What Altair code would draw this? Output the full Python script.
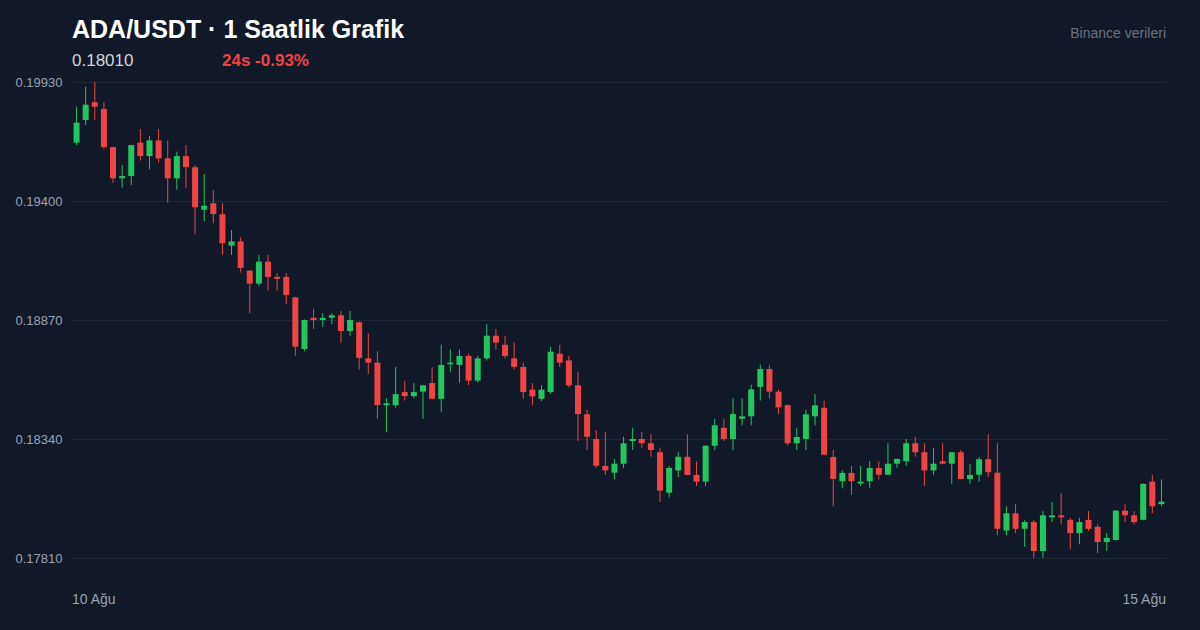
import altair as alt
import pandas as pd

# OHLC values (hourly candles, ADA/USDT)
opens = [0.19660, 0.19761, 0.19840, 0.19810, 0.19640, 0.19501, 0.19511, 0.19660, 0.19600, 0.19670,
         0.19590, 0.19501, 0.19600, 0.19550, 0.19361, 0.19390, 0.19341, 0.19201, 0.19220, 0.19090,
         0.19032, 0.19130, 0.19062, 0.19062, 0.18971, 0.18741, 0.18880, 0.18870, 0.18880, 0.18891,
         0.18821, 0.18860, 0.18699, 0.18680, 0.18490, 0.18490, 0.18549, 0.18531, 0.18551, 0.18589,
         0.18519, 0.18673, 0.18670, 0.18710, 0.18600, 0.18699, 0.18800, 0.18760, 0.18699, 0.18661,
         0.18560, 0.18519, 0.18549, 0.18720, 0.18690, 0.18579, 0.18450, 0.18340, 0.18220, 0.18190,
         0.18230, 0.18331, 0.18340, 0.18321, 0.18281, 0.18101, 0.18200, 0.18261, 0.18180, 0.18150,
         0.18310, 0.18390, 0.18340, 0.18430, 0.18441, 0.18572, 0.18652, 0.18551, 0.18491, 0.18321,
         0.18340, 0.18441, 0.18479, 0.18260, 0.18152, 0.18189, 0.18141, 0.18152, 0.18211, 0.18181,
         0.18230, 0.18241, 0.18321, 0.18281, 0.18200, 0.18241, 0.18230, 0.18281, 0.18162, 0.18181,
         0.18250, 0.18190, 0.17932, 0.18009, 0.17940, 0.17970, 0.17841, 0.17991, 0.18000, 0.17980,
         0.17921, 0.17980, 0.17949, 0.17881, 0.17890, 0.18021, 0.18000, 0.17980, 0.18150, 0.18050]
highs = [0.19820, 0.19909, 0.19931, 0.19840, 0.19642, 0.19560, 0.19651, 0.19721, 0.19690, 0.19721,
         0.19670, 0.19620, 0.19649, 0.19560, 0.19520, 0.19449, 0.19390, 0.19271, 0.19238, 0.19092,
         0.19160, 0.19160, 0.19079, 0.19079, 0.18973, 0.18872, 0.18920, 0.18900, 0.18900, 0.18910,
         0.18910, 0.18862, 0.18811, 0.18731, 0.18521, 0.18661, 0.18600, 0.18589, 0.18581, 0.18659,
         0.18760, 0.18739, 0.18739, 0.18720, 0.18710, 0.18851, 0.18830, 0.18800, 0.18771, 0.18680,
         0.18589, 0.18579, 0.18750, 0.18760, 0.18710, 0.18640, 0.18469, 0.18380, 0.18371, 0.18251,
         0.18350, 0.18390, 0.18371, 0.18361, 0.18301, 0.18220, 0.18281, 0.18361, 0.18241, 0.18312,
         0.18430, 0.18430, 0.18521, 0.18521, 0.18582, 0.18671, 0.18671, 0.18561, 0.18493, 0.18390,
         0.18470, 0.18540, 0.18511, 0.18291, 0.18200, 0.18220, 0.18220, 0.18241, 0.18241, 0.18321,
         0.18253, 0.18340, 0.18350, 0.18321, 0.18301, 0.18321, 0.18283, 0.18291, 0.18230, 0.18260,
         0.18361, 0.18321, 0.18040, 0.18050, 0.17979, 0.17979, 0.18019, 0.18059, 0.18099, 0.17989,
         0.17989, 0.18019, 0.17960, 0.17921, 0.18023, 0.18050, 0.18019, 0.18142, 0.18180, 0.18160]
lows = [0.19649, 0.19738, 0.19761, 0.19632, 0.19481, 0.19459, 0.19471, 0.19580, 0.19541, 0.19571,
        0.19392, 0.19450, 0.19459, 0.19252, 0.19311, 0.19301, 0.19160, 0.19160, 0.19081, 0.18900,
        0.19021, 0.19000, 0.19000, 0.18940, 0.18711, 0.18731, 0.18830, 0.18840, 0.18851, 0.18769,
        0.18800, 0.18650, 0.18629, 0.18430, 0.18371, 0.18479, 0.18511, 0.18521, 0.18430, 0.18517,
        0.18460, 0.18640, 0.18591, 0.18580, 0.18591, 0.18689, 0.18739, 0.18699, 0.18650, 0.18519,
        0.18490, 0.18509, 0.18540, 0.18661, 0.18570, 0.18331, 0.18291, 0.18211, 0.18180, 0.18160,
        0.18211, 0.18291, 0.18301, 0.18261, 0.18059, 0.18080, 0.18171, 0.18178, 0.18131, 0.18131,
        0.18291, 0.18331, 0.18291, 0.18401, 0.18401, 0.18511, 0.18521, 0.18451, 0.18310, 0.18291,
        0.18291, 0.18401, 0.18268, 0.18040, 0.18120, 0.18091, 0.18131, 0.18120, 0.18160, 0.18179,
        0.18211, 0.18221, 0.18261, 0.18131, 0.18181, 0.18228, 0.18141, 0.18160, 0.18141, 0.18150,
        0.18171, 0.17911, 0.17911, 0.17921, 0.17860, 0.17811, 0.17811, 0.17970, 0.17960, 0.17851,
        0.17871, 0.17930, 0.17831, 0.17841, 0.17888, 0.17970, 0.17960, 0.17978, 0.18010, 0.18040]
closes = [0.19749, 0.19829, 0.19820, 0.19640, 0.19501, 0.19511, 0.19649, 0.19600, 0.19670, 0.19590,
          0.19501, 0.19600, 0.19551, 0.19372, 0.19379, 0.19342, 0.19212, 0.19220, 0.19102, 0.19032,
          0.19130, 0.19062, 0.19053, 0.18981, 0.18751, 0.18870, 0.18870, 0.18880, 0.18891, 0.18821,
          0.18870, 0.18701, 0.18680, 0.18491, 0.18499, 0.18540, 0.18531, 0.18549, 0.18579, 0.18519,
          0.18670, 0.18680, 0.18710, 0.18600, 0.18699, 0.18800, 0.18769, 0.18710, 0.18661, 0.18549,
          0.18530, 0.18560, 0.18729, 0.18680, 0.18579, 0.18451, 0.18350, 0.18221, 0.18200, 0.18230,
          0.18321, 0.18340, 0.18321, 0.18291, 0.18110, 0.18211, 0.18261, 0.18180, 0.18150, 0.18310,
          0.18401, 0.18340, 0.18451, 0.18441, 0.18561, 0.18652, 0.18551, 0.18481, 0.18321, 0.18349,
          0.18450, 0.18490, 0.18270, 0.18162, 0.18189, 0.18152, 0.18150, 0.18211, 0.18181, 0.18230,
          0.18251, 0.18321, 0.18281, 0.18200, 0.18230, 0.18230, 0.18281, 0.18162, 0.18180, 0.18250,
          0.18192, 0.17940, 0.18009, 0.17940, 0.17970, 0.17841, 0.18000, 0.18000, 0.17991, 0.17921,
          0.17970, 0.17940, 0.17881, 0.17900, 0.18021, 0.18000, 0.17970, 0.18140, 0.18040, 0.18061]

y_ticks = [0.17810, 0.18340, 0.18870, 0.19400, 0.19930]
date_labels = ["10 Ağu", "15 Ağu"]
title_text = "ADA/USDT · 1 Saatlik Grafik"
price_text = "0.18010"
change_text = "24s -0.93%"
source_text = "Binance verileri"

BG = "#111827"
GREEN = "#22c55e"
RED = "#ef4444"
GRID = "#1f2937"
LABEL = "#9ca3af"
FONT = "Liberation Sans"

W, H = 1094, 476

n = len(opens)
df = pd.DataFrame({
    "i": list(range(n)),
    "open": opens, "high": highs, "low": lows, "close": closes,
})
df["dir"] = ["up" if c >= o else "down" for o, c in zip(opens, closes)]

xscale = alt.Scale(domain=[-0.5, n - 0.5], nice=False, zero=False, padding=0)
yscale = alt.Scale(domain=[y_ticks[0], y_ticks[-1]], nice=False, zero=False)
cscale = alt.Scale(domain=["up", "down"], range=[GREEN, RED])
yaxis = alt.Axis(values=y_ticks, format=".5f", title=None, domain=False, ticks=False,
                 grid=True, gridColor=GRID, gridWidth=1, labelColor=LABEL, labelFont=FONT,
                 labelFontSize=13, labelPadding=10)

base = alt.Chart(df).encode(
    x=alt.X("i:Q", scale=xscale, axis=None),
    color=alt.Color("dir:N", scale=cscale, legend=None),
)

wicks = base.mark_rule(strokeWidth=1, clip=False).encode(
    y=alt.Y("low:Q", scale=yscale, axis=yaxis),
    y2="high:Q",
)
bodies = base.mark_bar(size=6, clip=False).encode(
    y=alt.Y("open:Q", scale=yscale, axis=yaxis),
    y2="close:Q",
)

dates = alt.Chart(pd.DataFrame({"i": [-0.5, n - 0.5], "t": date_labels,
                                "a": ["left", "right"]}))
date_left = dates.transform_filter("datum.a == 'left'").mark_text(
    align="left", baseline="middle", font=FONT, fontSize=14, color=LABEL
).encode(x=alt.X("i:Q", scale=xscale, axis=None), y=alt.value(H + 42), text="t:N")
date_right = dates.transform_filter("datum.a == 'right'").mark_text(
    align="right", baseline="middle", font=FONT, fontSize=14, color=LABEL
).encode(x=alt.X("i:Q", scale=xscale, axis=None), y=alt.value(H + 42), text="t:N")

def label(text, x, y, size, color, weight="normal", align="left"):
    return alt.Chart(pd.DataFrame({"t": [text]})).mark_text(
        align=align, baseline="middle", font=FONT, fontSize=size, color=color, fontWeight=weight
    ).encode(x=alt.value(x), y=alt.value(y), text="t:N")

title = label(title_text, 0, -52, 25, "#ffffff", "bold")
price = label(price_text, 0, -21, 17, "#d1d5db")
change = label(change_text, 150, -21, 17, RED, "bold")
source = label(source_text, W, -48, 14, "#6b7280", align="right")

chart = alt.layer(wicks, bodies, date_left, date_right, title, price, change, source).properties(
    width=W, height=H,
    background=BG,
    padding={"left": 64, "top": 74, "right": 26, "bottom": 64},
    autosize=alt.AutoSizeParams(type="none"),
).configure_view(stroke=None).resolve_scale(y="shared")

# page template identical in structure to Altair's standard one, with the page
# background set to the chart background so the 8px body margin is not white
page_template = None
try:
    import jinja2
    page_template = jinja2.Template("""<!DOCTYPE html>
<html>
<head>
  <meta charset="utf-8">
  <style>
    body { background: """ + BG + """; }
    #{{ output_div }}.vega-embed { width: 100%; display: flex; }
  </style>
  <script type="text/javascript" src="{{ base_url }}/vega@{{ vega_version }}"></script>
  <script type="text/javascript" src="{{ base_url }}/vega-lite@{{ vegalite_version }}"></script>
  <script type="text/javascript" src="{{ base_url }}/vega-embed@{{ vegaembed_version }}"></script>
</head>
<body>
  <div id="{{ output_div }}"></div>
  <script type="text/javascript">
    (function(spec, embedOpt){
      vegaEmbed("#{{ output_div }}", spec, embedOpt).catch(function(err){ console.error(err); });
    })({{ spec }}, {{ embed_options }});
  </script>
</body>
</html>
""")
except Exception:
    page_template = None

if page_template is not None:
    try:
        chart.save("out.html", embed_options={"renderer": "svg", "actions": False},
                   template=page_template)
    except Exception:
        chart.save("out.html", embed_options={"renderer": "svg", "actions": False})
else:
    chart.save("out.html", embed_options={"renderer": "svg", "actions": False})
